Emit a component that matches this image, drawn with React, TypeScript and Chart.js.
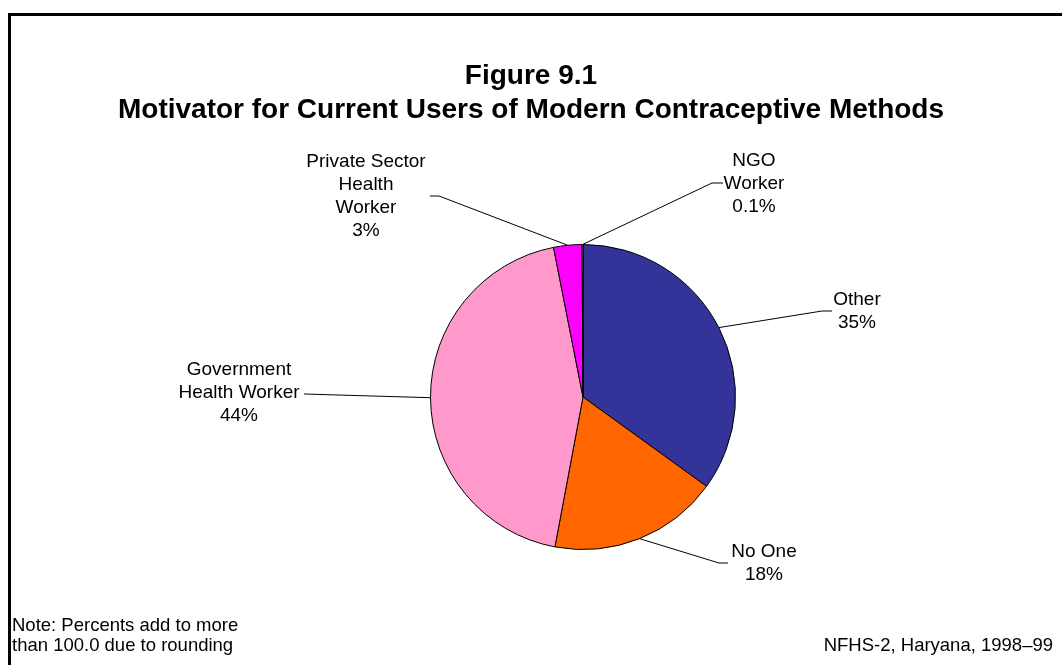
import React, { useEffect, useRef } from "react";
import { Chart, registerables } from "chart.js";

Chart.register(...registerables);

const categories = ["Other", "No One", "Government Health Worker", "Private Sector Health Worker", "NGO Worker"];
const values = [35, 18, 44, 3, 0.1];
const valueLabels = ["35%", "18%", "44%", "3%", "0.1%"];
const labelLines = [["Other"], ["No One"], ["Government", "Health Worker"], ["Private Sector", "Health", "Worker"], ["NGO", "Worker"]];
const colors = ["#333399", "#FF6600", "#FF99CC", "#FF00FF", "#FFFFFF"];
const titleLines = ["Figure 9.1", "Motivator for Current Users of Modern Contraceptive Methods"];
const noteLines = ["Note: Percents add to more", "than 100.0 due to rounding"];
const sourceText = "NFHS-2, Haryana, 1998–99";

const FONT = "'Liberation Sans', Arial, Helvetica, sans-serif";

// label layout, offsets relative to pie centre: text first-line centre, leader start, optional elbow
const labelLayout = [
  { tx: 274, ty: -97, sx: 249, sy: -86, ex: 239, ey: -86 },
  { tx: 181, ty: 155, sx: 145, sy: 166, ex: 136, ey: 166 },
  { tx: -344, ty: -27, sx: -279, sy: -3, ex: null, ey: null },
  { tx: -217, ty: -235, sx: -153, sy: -201, ex: -144, ey: -201 },
  { tx: 171, ty: -236, sx: 140, sy: -214, ex: 129, ey: -214 },
];

const decorPlugin = {
  id: "decor",
  afterDatasetsDraw(chart: any) {
    const ctx = chart.ctx;
    const meta = chart.getDatasetMeta(0);
    ctx.save();
    // frame
    ctx.fillStyle = "#000";
    ctx.fillRect(8, 13, chart.width - 8, 3);
    ctx.fillRect(8, 13, 3, chart.height - 13);

    // title
    ctx.fillStyle = "#000";
    ctx.textAlign = "center";
    ctx.textBaseline = "alphabetic";
    ctx.font = `bold 28px ${FONT}`;
    titleLines.forEach((t, i) => ctx.fillText(t, chart.width / 2, 84 + i * 34));

    // leaders and labels
    meta.data.forEach((arc: any, i: number) => {
      const p = arc.getProps(["x", "y", "startAngle", "endAngle", "outerRadius"], true);
      const mid = (p.startAngle + p.endAngle) / 2;
      const ax = p.x + Math.cos(mid) * p.outerRadius;
      const ay = p.y + Math.sin(mid) * p.outerRadius;
      const L = labelLayout[i];
      ctx.strokeStyle = "#000";
      ctx.lineWidth = 1;
      ctx.beginPath();
      ctx.moveTo(p.x + L.sx, p.y + L.sy);
      if (L.ex !== null) ctx.lineTo(p.x + L.ex, p.y + L.ey);
      ctx.lineTo(ax, ay);
      ctx.stroke();

      ctx.font = `19px ${FONT}`;
      ctx.textAlign = "center";
      ctx.textBaseline = "middle";
      const lines = [...labelLines[i], valueLabels[i]];
      lines.forEach((t, j) => ctx.fillText(t, p.x + L.tx, p.y + L.ty + j * 23));
    });

    // footer
    ctx.font = `18.5px ${FONT}`;
    ctx.textBaseline = "middle";
    ctx.textAlign = "left";
    noteLines.forEach((t, j) => ctx.fillText(t, 12, 626 + j * 20));
    ctx.textAlign = "right";
    ctx.fillText(sourceText, 1053, 646);
    ctx.restore();
  },
};

export default function App() {
  const ref = useRef<HTMLCanvasElement | null>(null);
  useEffect(() => {
    if (!ref.current) return;
    const chart = new Chart(ref.current, {
      type: "pie",
      data: {
        labels: categories,
        datasets: [
          {
            data: values,
            backgroundColor: colors,
            borderColor: "#000",
            borderWidth: 1,
          },
        ],
      },
      options: {
        responsive: false,
        animation: false,
        rotation: 0,
        layout: { padding: { left: 430, right: 326, top: 244, bottom: 115 } },
        plugins: {
          legend: { display: false },
          tooltip: { enabled: false },
          title: { display: false },
        },
      },
      plugins: [decorPlugin],
    });
    return () => chart.destroy();
  }, []);
  return (
    <div style={{ position: "fixed", left: 0, top: 0, width: 1062, height: 665, background: "#fff" }}>
      <canvas ref={ref} width={1062} height={665} style={{ display: "block" }} />
    </div>
  );
}
